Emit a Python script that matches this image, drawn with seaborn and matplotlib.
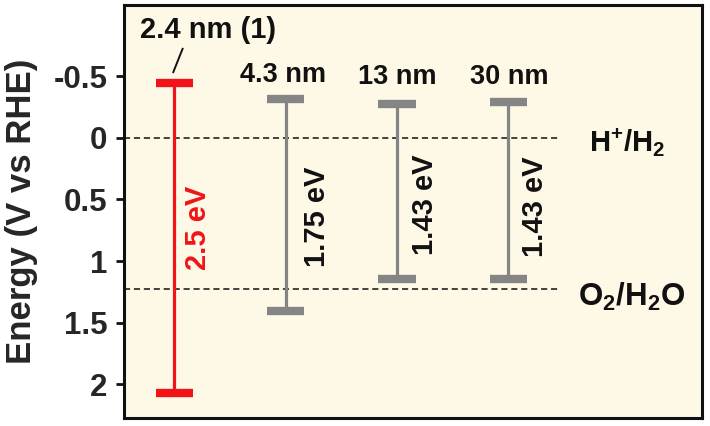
import matplotlib
matplotlib.use("Agg")
import matplotlib.pyplot as plt
import seaborn as sns
import pandas as pd

# ---- data ----
samples = ["2.4 nm (1)", "4.3 nm", "13 nm", "30 nm"]
band_top = [-0.45, -0.32, -0.28, -0.29]     # V vs RHE (conduction band edge)
band_bottom = [2.07, 1.41, 1.15, 1.15]      # V vs RHE (valence band edge)
gap_labels = ["2.5 eV", "1.75 eV", "1.43 eV", "1.43 eV"]
bar_colors = ["#f01418", "#858585", "#858585", "#858585"]
ref_levels = [0.0, 1.23]
ref_labels = ["H$^{+}$/H$_{2}$", "O$_{2}$/H$_{2}$O"]
y_ticks = [-0.5, 0, 0.5, 1, 1.5, 2]
y_ticklabels = ["-0.5", "0", "0.5", "1", "1.5", "2"]

sns.set_style("white")
plt.rcParams["font.family"] = ["Liberation Sans", "DejaVu Sans"]
plt.rcParams["font.weight"] = "bold"
plt.rcParams["mathtext.fontset"] = "custom"
plt.rcParams["mathtext.rm"] = "Liberation Sans:bold"
plt.rcParams["mathtext.bf"] = "Liberation Sans:bold"
plt.rcParams["mathtext.it"] = "Liberation Sans:bold"
plt.rcParams["mathtext.default"] = "bf"

fig = plt.figure(figsize=(7.1, 4.26), dpi=100)
fig.patch.set_facecolor("white")
ax = fig.add_axes([0.1746, 0.0188, 0.8141, 0.9695])
ax.set_facecolor("#fef8e6")

xpos = list(range(len(samples)))
df = pd.DataFrame({
    "x": xpos * 2,
    "y": band_top + band_bottom,
    "sample": samples * 2,
})

# reference dashed lines
for lvl in ref_levels:
    ax.plot([-0.452, 3.447], [lvl, lvl], color="#111111", lw=1.1,
            ls=(0, (4, 2.5)), zorder=1)

# stems
for i in xpos:
    ax.vlines(i, band_top[i], band_bottom[i], color=bar_colors[i], lw=2.3, zorder=2)

# caps via seaborn
sns.scatterplot(data=df, x="x", y="y", hue="sample", palette=bar_colors,
                marker="_", s=720, linewidth=6.0, legend=False, ax=ax, zorder=3)

# labels above bars
ax.text(0.30, -0.878, samples[0], ha="center", va="center", fontsize=21,
        fontweight="bold", color="#111111")
# leader line from label to the red bar
ax.plot([-0.012, 0.078], [-0.528, -0.732], color="#111111", lw=1.4,
        solid_capstyle="butt")
name_y = [None, -0.512, -0.496, -0.496]
name_x = [None, 0.977, 2.0, 3.01]
for i in range(1, len(samples)):
    ax.text(name_x[i], name_y[i], samples[i], ha="center", va="center",
            fontsize=19.5, fontweight="bold", color="#111111")

# gap labels
gap_x = [0.21, 1.28, 2.25, 3.24]
gap_y = [0.73, 0.64, 0.545, 0.56]
for i in xpos:
    ax.text(gap_x[i], gap_y[i], gap_labels[i], rotation=90, ha="center",
            va="center", fontsize=21, fontweight="bold",
            color=bar_colors[i] if i == 0 else "#111111")

# reference labels
ax.text(4.07, 0.04, ref_labels[0], ha="center", va="center", fontsize=21,
        fontweight="bold", color="#111111")
ax.text(4.11, 1.29, ref_labels[1], ha="center", va="center", fontsize=22.5,
        fontweight="bold", color="#111111")

ax.set_xlim(-0.452, 4.741)
ax.set_ylim(2.276, -1.081)
ax.set_xticks([])
ax.set_yticks(y_ticks)
ax.set_yticklabels(y_ticklabels, fontsize=22.5, fontweight="bold")
ax.tick_params(axis="y", direction="out", length=6, width=2, color="#111111",
               pad=6, left=True)
ax.set_xlabel("")
ax.set_ylabel("Energy (V vs RHE)", fontsize=25, fontweight="bold")
ax.yaxis.set_label_coords(-0.148, 0.5)
for sp in ax.spines.values():
    sp.set_visible(True)
    sp.set_color("#111111")
    sp.set_linewidth(2.2)

fig.savefig("out.png", dpi=100)
